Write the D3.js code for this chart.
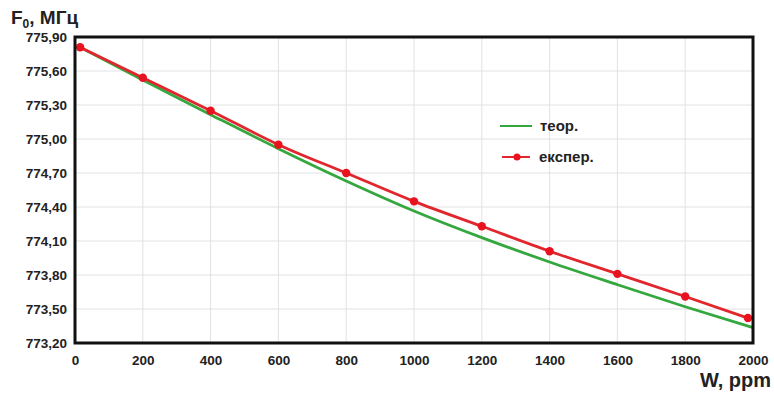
<!DOCTYPE html>
<html>
<head>
<meta charset="utf-8">
<script src="https://cdn.jsdelivr.net/npm/d3@7"></script>
<style>
  body { margin: 0; background: #fff; }
  text { font-family: "Liberation Sans", Arial, sans-serif; font-weight: bold; fill: #222; }
</style>
</head>
<body>
<svg id="chart" width="774" height="394"></svg>
<script>
// data
const expW = [15, 200, 400, 600, 800, 1000, 1200, 1400, 1600, 1800, 1985]
const expF = [775.81, 775.54, 775.25, 774.95, 774.70, 774.45, 774.23, 774.01, 773.81, 773.61, 773.42]
const teorW = [15, 200, 400, 600, 800, 1000, 1200, 1400, 1600, 1800, 2000]
const teorF = [775.81, 775.52, 775.215, 774.915, 774.63, 774.365, 774.13, 773.915, 773.715, 773.52, 773.335]
const xTicks = [0, 200, 400, 600, 800, 1000, 1200, 1400, 1600, 1800, 2000]
const yTicks = [773.2, 773.5, 773.8, 774.1, 774.4, 774.7, 775.0, 775.3, 775.6, 775.9]

const margin = { top: 37, left: 75, right: 21, bottom: 51 }
const width = 774, height = 394
const w = width - margin.left - margin.right
const h = height - margin.top - margin.bottom

const svg = d3.select("#chart")
const g = svg.append("g").attr("transform", "translate(" + [margin.left, margin.top] + ")")

const x = d3.scaleLinear().domain([0, 2000]).range([0, w])
const y = d3.scaleLinear().domain([773.2, 775.9]).range([h, 0])
const fmt = d => d3.format(".2f")(d).replace(".", ",")

// grid
g.append("g").selectAll("line").data(xTicks.slice(1, -1)).enter().append("line")
    .attr("x1", d => x(d)).attr("x2", d => x(d)).attr("y1", 0).attr("y2", h)
    .attr("stroke", "#e2e2e2").attr("stroke-width", 1)
g.append("g").selectAll("line").data(yTicks.slice(1, -1)).enter().append("line")
    .attr("y1", d => y(d)).attr("y2", d => y(d)).attr("x1", 0).attr("x2", w)
    .attr("stroke", "#e2e2e2").attr("stroke-width", 1)

// axes (labels only)
const xAxis = g.append("g").attr("transform", "translate(0," + h + ")")
    .call(d3.axisBottom(x).tickValues(xTicks).tickSize(0).tickPadding(12).tickFormat(d3.format("d")))
const yAxis = g.append("g")
    .call(d3.axisLeft(y).tickValues(yTicks).tickSize(0).tickPadding(8).tickFormat(fmt))
xAxis.select(".domain").remove()
yAxis.select(".domain").remove()
svg.selectAll(".tick text").style("font-size", "13.5px").style("font-family", "Liberation Sans, Arial, sans-serif")
    .attr("fill", "#222")

const teor = teorW.map((d, i) => ({ w: d, f: teorF[i] }))
const exp = expW.map((d, i) => ({ w: d, f: expF[i] }))
const line = d3.line().x(d => x(d.w)).y(d => y(d.f)).curve(d3.curveMonotoneX)

g.append("path").datum(teor).attr("d", line)
    .attr("fill", "none").attr("stroke", "#34a83e").attr("stroke-width", 2.8)
g.append("path").datum(exp).attr("d", line)
    .attr("fill", "none").attr("stroke", "#e1262e").attr("stroke-width", 2.8)
g.selectAll(".dot").data(exp).enter().append("circle")
    .attr("cx", d => x(d.w)).attr("cy", d => y(d.f)).attr("r", 4.2)
    .attr("fill", "#e8131f")

// frame
g.append("rect").attr("width", w).attr("height", h)
    .attr("fill", "none").attr("stroke", "#111").attr("stroke-width", 3)

// legend
const lg = svg.append("g").attr("transform", "translate(500,0)")
lg.append("line").attr("x1", 0).attr("x2", 32).attr("y1", 126).attr("y2", 126)
    .attr("stroke", "#34a83e").attr("stroke-width", 2)
lg.append("text").attr("x", 40).attr("y", 131).style("font-size", "15px").text("теор.")
lg.append("line").attr("x1", 2).attr("x2", 30).attr("y1", 157).attr("y2", 157)
    .attr("stroke", "#e1262e").attr("stroke-width", 2)
lg.append("circle").attr("cx", 17).attr("cy", 157).attr("r", 3.5).attr("fill", "#e8131f")
lg.append("text").attr("x", 39).attr("y", 162).style("font-size", "15px").text("експер.")

// axis titles
const t = svg.append("text").attr("x", 11).attr("y", 24).style("font-size", "19px")
t.append("tspan").text("F")
t.append("tspan").attr("dy", 4).style("font-size", "12px").text("0")
t.append("tspan").attr("dy", -4).text(", МГц")

svg.append("text").attr("x", 771).attr("y", 387).attr("text-anchor", "end")
    .style("font-size", "20px").text("W, ppm")
</script>
</body>
</html>
